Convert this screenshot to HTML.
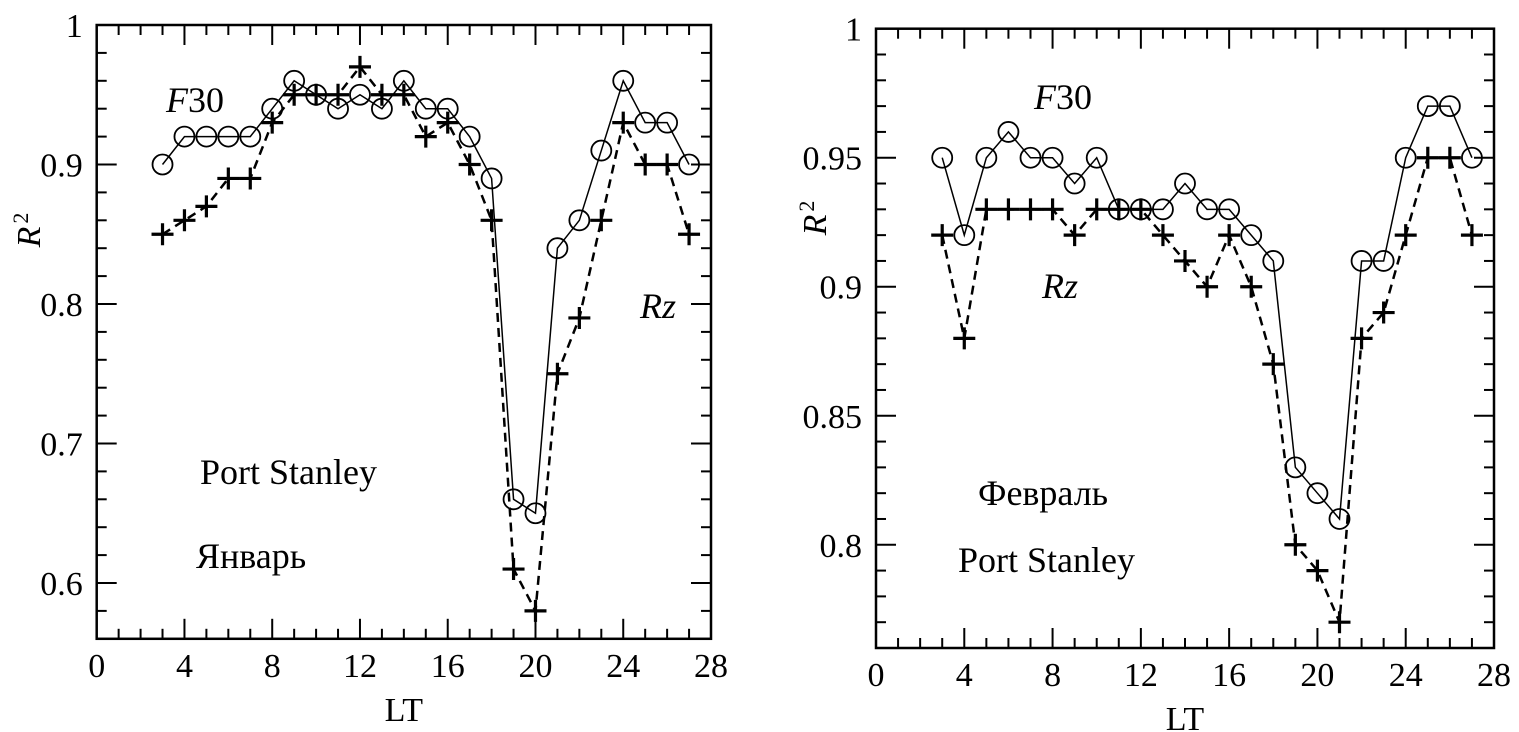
<!DOCTYPE html>
<html><head><meta charset="utf-8"><style>
html,body{margin:0;padding:0;background:#fff;}
svg{display:block;font-family:"Liberation Serif","Noto Serif CJK SC",serif;}
</style></head><body>
<svg id="s" width="1519" height="732" viewBox="0 0 1519 732"></svg>
<script>
const lt = [3,4,5,6,7,8,9,10,11,12,13,14,15,16,17,18,19,20,21,22,23,24,25,26,27];
const janF30 = [0.90,0.92,0.92,0.92,0.92,0.94,0.96,0.95,0.94,0.95,0.94,0.96,0.94,0.94,0.92,0.89,0.66,0.65,0.84,0.86,0.91,0.96,0.93,0.93,0.90];
const janRz = [0.85,0.86,0.87,0.89,0.89,0.93,0.95,0.95,0.95,0.97,0.95,0.95,0.92,0.93,0.90,0.86,0.61,0.58,0.75,0.79,0.86,0.93,0.90,0.90,0.85];
const febF30 = [0.95,0.92,0.95,0.96,0.95,0.95,0.94,0.95,0.93,0.93,0.93,0.94,0.93,0.93,0.92,0.91,0.83,0.82,0.81,0.91,0.91,0.95,0.97,0.97,0.95];
const febRz = [0.92,0.88,0.93,0.93,0.93,0.93,0.92,0.93,0.93,0.93,0.92,0.91,0.90,0.92,0.90,0.87,0.80,0.79,0.77,0.88,0.89,0.92,0.95,0.95,0.92];
const xTicks = [0,4,8,12,16,20,24,28];
const janYTicks = [0.6,0.7,0.8,0.9,1];
const janYLabels = ["0.6","0.7","0.8","0.9","1"];
const febYTicks = [0.8,0.85,0.9,0.95,1];
const febYLabels = ["0.8","0.85","0.9","0.95","1"];

const NS="http://www.w3.org/2000/svg";
const svg=document.getElementById('s');
function mk(tag,attrs,parent){const e=document.createElementNS(NS,tag);for(const k in attrs)e.setAttribute(k,attrs[k]);(parent||svg).appendChild(e);return e;}

function panel(p){
  const g=mk('g',{});
  
  
  const X=v=>p.x0+(v-0)/28*(p.x1-p.x0);
  const Y=v=>p.yb+(v-p.ymin)/(p.ymax-p.ymin)*(p.yt-p.yb);
  const fr=mk('rect',{x:p.x0,y:p.yt,width:p.x1-p.x0,height:p.yb-p.yt,fill:'none',stroke:'#000','stroke-width':2.5},g);
  
  
  for(let v=1;v<28;v++){
    const L=(v%4===0)?20:10;
    mk('line',{x1:X(v),x2:X(v),y1:p.yb,y2:p.yb-L,stroke:'#000','stroke-width':2},g);
    mk('line',{x1:X(v),x2:X(v),y1:p.yt,y2:p.yt+L,stroke:'#000','stroke-width':2},g);
  }
  xTicks.forEach(v=>{
    const t=mk('text',{x:X(v),y:p.yb+38,'font-size':34,'text-anchor':'middle'},g);
    t.textContent=v;
    
    
  });
  const n=Math.round((p.ymax-p.ymin)/p.minor);
  for(let i=1;i<n;i++){
    const v=p.ymin+i*p.minor;
    const major=p.yTicks.some(t=>Math.abs(t-v)<1e-6);
    const L=major?20:10;
    mk('line',{x1:p.x0,x2:p.x0+L,y1:Y(v),y2:Y(v),stroke:'#000','stroke-width':2},g);
    mk('line',{x1:p.x1,x2:p.x1-L,y1:Y(v),y2:Y(v),stroke:'#000','stroke-width':2},g);
  }
  p.yTicks.forEach((v,i)=>{
    const t=mk('text',{x:p.x0-14,y:Y(v)+12,'font-size':34,'text-anchor':'end'},g);
    t.textContent=p.yLabels[i];
    
    
  });
  const xt=mk('text',{x:(p.x0+p.x1)/2,y:p.yb+82,'font-size':34,'text-anchor':'middle'},g);
  xt.textContent='LT';
  
  
  const yt=mk('text',{transform:`translate(${p.ytx},${p.yty}) rotate(-90)`,'font-size':34,'font-style':'italic','text-anchor':'middle'},g);
  yt.innerHTML='R<tspan font-style="normal" font-size="22" dx="3" dy="-12">2</tspan>';
  
  
  const rz=mk('polyline',{points:lt.map((v,i)=>X(v)+','+Y(p.rz[i])).join(' '),fill:'none',stroke:'#000','stroke-width':2.5,'stroke-dasharray':'9,6'},g);
  
  
  const f=mk('polyline',{points:lt.map((v,i)=>X(v)+','+Y(p.f30[i])).join(' '),fill:'none',stroke:'#000','stroke-width':1.5},g);
  
  
  lt.forEach((v,i)=>{
    const c=mk('circle',{cx:X(v),cy:Y(p.f30[i]),r:10,fill:'none',stroke:'#000','stroke-width':1.8},g);
    
    
    const x=X(v),y=Y(p.rz[i]);
    const pl=mk('path',{d:`M${x-11},${y}H${x+11}M${x},${y-11}V${y+11}`,stroke:'#000','stroke-width':3.2,fill:'none'},g);
    
    
  });
  p.labels.forEach(l=>{
    const t=mk('text',{x:l[1],y:l[2],'font-size':36,'font-style':l[3]?'italic':'normal'},g);
    if(l[0]==='F30'){t.innerHTML='F<tspan font-style="normal">30</tspan>';}
    else t.textContent=l[0];
    
    
  });
}
panel({name:'january-panel',x0:96.7,x1:711,yt:25,yb:638.8,ymin:0.56,ymax:1,minor:0.02,yTicks:janYTicks,yLabels:janYLabels,f30:janF30,rz:janRz,ytx:40,yty:230,
  labels:[['F30',166,112,true,'f30-label'],['Rz',640,318,true,'rz-label'],['Port Stanley',200,484,false,'station-label'],['Январь',196,568,false,'month-label']]});
panel({name:'february-panel',x0:876,x1:1494,yt:28.7,yb:648,ymin:0.76,ymax:1,minor:0.01,yTicks:febYTicks,yLabels:febYLabels,f30:febF30,rz:febRz,ytx:826,yty:218,
  labels:[['F30',1034,109,true,'f30-label'],['Rz',1042,298,true,'rz-label'],['Февраль',978,505,false,'month-label'],['Port Stanley',958,572,false,'station-label']]});
</script>
</body></html>
